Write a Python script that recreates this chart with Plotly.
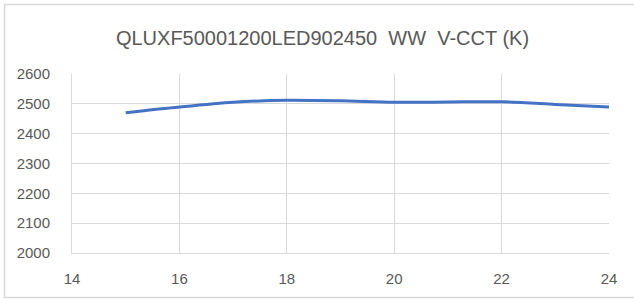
import plotly.graph_objects as go

title_text = "QLUXF50001200LED902450  WW  V-CCT (K)"
voltage = [15, 16, 17, 18, 19, 20, 21, 22, 23, 24]
cct = [2470, 2489, 2505, 2512, 2510, 2505, 2506, 2507, 2498, 2489]
x_ticks = [14, 16, 18, 20, 22, 24]
y_ticks = [2000, 2100, 2200, 2300, 2400, 2500, 2600]

W, H = 634, 299
L, R, T, B = 72, 25, 74, 46

fig = go.Figure()
fig.add_trace(go.Scatter(
    x=voltage, y=cct, mode="lines",
    line=dict(color="#4472C4", width=3, shape="spline", smoothing=0.8),
    hoverinfo="x+y", showlegend=False,
))

grid = "#d9d9d9"
font = "Liberation Sans, Arial, sans-serif"
fig.update_layout(
    width=W, height=H,
    margin=dict(l=L, r=R, t=T, b=B),
    paper_bgcolor="white", plot_bgcolor="white",
    title=dict(text=title_text, x=322.5 / W, xref="container", y=1 - 38 / H, yref="container",
               xanchor="center", yanchor="middle",
               font=dict(family=font, size=20, color="#595959")),
    xaxis=dict(range=[14, 24], tickvals=x_ticks, showgrid=True, gridcolor=grid, gridwidth=1,
               zeroline=False, showline=True, linecolor=grid, linewidth=1,
               ticks="", ticklabelstandoff=12,
               tickfont=dict(family=font, size=15, color="#595959")),
    yaxis=dict(range=[2000, 2600], tickvals=y_ticks, showgrid=True, gridcolor=grid, gridwidth=1,
               zeroline=False, showline=True, linecolor=grid, linewidth=1,
               ticks="", ticklabelstandoff=18,
               tickfont=dict(family=font, size=15, color="#595959")),
)
# outer chart border
fig.add_shape(type="rect", xref="paper", yref="paper",
              x0=(4.5 - L) / (W - L - R), x1=(W + 10 - L) / (W - L - R),
              y0=-(297.5 - (H - B)) / (H - T - B), y1=1 + (T - 4.5) / (H - T - B),
              line=dict(color="#d9d9d9", width=1.5), fillcolor="rgba(0,0,0,0)", layer="below")

fig.write_html("out.html", config={"displayModeBar": False},
               post_script="document.body.style.margin='0';document.body.style.overflow='hidden';")
